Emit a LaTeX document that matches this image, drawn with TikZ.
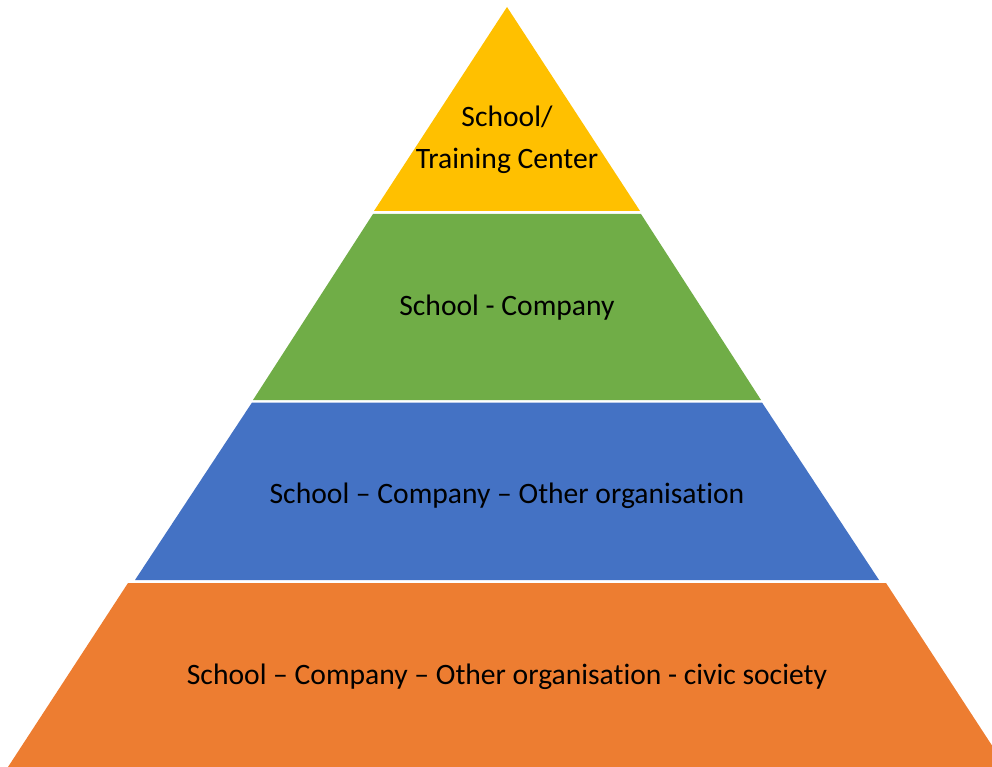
\documentclass[tikz,border=0pt]{standalone}
\usepackage{fontspec}
\setmainfont[Ligatures=NoCommon]{Carlito}
\definecolor{pyyellow}{HTML}{FFC000}
\definecolor{pygreen}{HTML}{70AD47}
\definecolor{pyblue}{HTML}{4472C4}
\definecolor{pyorange}{HTML}{ED7D31}
\tikzset{
  lbl/.style={font=\fontsize{29.6}{42}\selectfont, text=black, align=center, inner sep=0pt},
}
\begin{document}
\begin{tikzpicture}[x=1pt,y=-1pt]
  \useasboundingbox (0,0) rectangle (992,767);
  \clip (0,0) rectangle (992,767);
  \fill[pyyellow] (507,7) -- (374,211) -- (640,211) -- cycle;
  \fill[pygreen] (373,214) -- (253,400) -- (761,400) -- (641,214) -- cycle;
  \fill[pyblue] (252,402.5) -- (135,580) -- (879,580) -- (762,402.5) -- cycle;
  \fill[pyorange] (128,583) -- (8,767) -- (1006,767) -- (886,583) -- cycle;
  \node[lbl] (top) at (507,140) {School/\\Training Center};
  \node[lbl] (second) at (507,308) {School - Company};
  \node[lbl] (third) at (507,496) {School – Company – Other organisation};
  \node[lbl] (base) at (507,677) {School – Company – Other organisation - civic society};
\end{tikzpicture}
\end{document}
